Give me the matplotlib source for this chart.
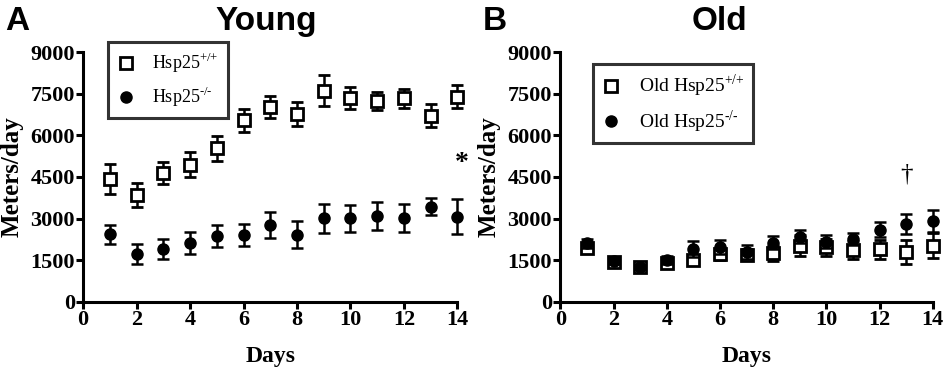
import numpy as np
import matplotlib
matplotlib.use("Agg")
import matplotlib.pyplot as plt
from matplotlib.lines import Line2D

plt.rcParams['font.family'] = 'Liberation Serif'
plt.rcParams['mathtext.fontset'] = 'custom'
plt.rcParams['mathtext.rm'] = 'Liberation Serif'

# data (mean, SEM in meters/day)
days = np.arange(1, 15)

young_wt = [4420, 3850, 4640, 4950, 5530, 6550, 7030, 6770, 7610, 7360, 7250, 7340, 6710, 7400]
young_wt_err = [550, 440, 410, 450, 450, 420, 390, 430, 560, 400, 320, 350, 420, 420]
young_ko = [2430, 1720, 1900, 2110, 2370, 2410, 2770, 2420, 3010, 3010, 3080, 3020, 3430, 3070]
young_ko_err = [340, 360, 350, 390, 400, 410, 460, 500, 520, 490, 510, 510, 310, 620]

old_wt = [1930, 1420, 1260, 1390, 1500, 1710, 1700, 1740, 2020, 1960, 1870, 1890, 1780, 2010]
old_wt_err = [150, 100, 80, 150, 150, 200, 200, 280, 380, 300, 330, 350, 430, 450]
old_ko = [2100, 1470, 1260, 1500, 1900, 1960, 1780, 2130, 2350, 2170, 2250, 2590, 2790, 2910]
old_ko_err = [150, 100, 80, 150, 280, 250, 250, 230, 250, 220, 220, 270, 360, 400]

yticks = [0, 1500, 3000, 4500, 6000, 7500, 9000]
xticks = [0, 2, 4, 6, 8, 10, 12, 14]

fig = plt.figure(figsize=(9.45, 3.71), dpi=100)
axA = fig.add_axes([0.088, 0.187, 0.396, 0.672])
axB = fig.add_axes([0.593, 0.187, 0.394, 0.672])


def style_axis(ax):
    ax.set_xlim(0, 14)
    ax.set_ylim(0, 9000)
    ax.set_xticks(xticks)
    ax.set_yticks(yticks)
    for s in ['top', 'right']:
        ax.spines[s].set_visible(False)
    for s in ['left', 'bottom']:
        ax.spines[s].set_linewidth(2.2)
    ax.tick_params(width=2.2, length=5, direction='out', labelsize=16, pad=1)
    for lab in ax.get_xticklabels() + ax.get_yticklabels():
        lab.set_fontweight('bold')
    ax.set_ylabel('Meters/day', fontsize=18, fontweight='bold')
    ax.set_xlabel('Days', fontsize=17, fontweight='bold')
    ax.yaxis.set_label_coords(-0.16, 0.5)
    ax.xaxis.set_label_coords(0.5, -0.178)


def plot_group(ax, wt, wt_err, ko, ko_err):
    ax.errorbar(days, wt, yerr=wt_err, fmt='s', mfc='white', mec='black', mew=2,
                ms=8.5, ecolor='black', elinewidth=1.8, capsize=4.5, capthick=1.8,
                clip_on=False, zorder=3)
    ax.errorbar(days, ko, yerr=ko_err, fmt='o', color='black', ms=8,
                ecolor='black', elinewidth=1.8, capsize=4.5, capthick=1.8,
                clip_on=False, zorder=4)


plot_group(axA, young_wt, young_wt_err, young_ko, young_ko_err)
plot_group(axB, old_wt, old_wt_err, old_ko, old_ko_err)

for ax in (axA, axB):
    style_axis(ax)

h_wt = Line2D([], [], ls='none', marker='s', mfc='white', mec='black', mew=2, ms=8)
h_ko = Line2D([], [], ls='none', marker='o', color='black', ms=8)

legA = fig.legend([h_wt, h_ko], [r'Hsp25$^{\text{+/+}}$', r'Hsp25$^{\text{-/-}}$'],
                  loc='upper left', bbox_to_anchor=(108 / 945, 1 - 42 / 371),
                  borderaxespad=0, fontsize=13, frameon=True, fancybox=False,
                  edgecolor='black', handlelength=1.0, handletextpad=0.95,
                  borderpad=0.5, labelspacing=0.55)
legA.get_frame().set_linewidth(2.2)
legB = fig.legend([h_wt, h_ko], [r'Old Hsp25$^{\text{+/+}}$', r'Old Hsp25$^{\text{-/-}}$'],
                  loc='upper left', bbox_to_anchor=(593 / 945, 1 - 64 / 371),
                  borderaxespad=0, fontsize=14, frameon=True, fancybox=False,
                  edgecolor='black', handlelength=1.0, handletextpad=0.9,
                  borderpad=0.45, labelspacing=0.45)
legB.get_frame().set_linewidth(2.2)

axA.text(14.17, 5000, '*', ha='center', va='center', fontsize=20, fontweight='bold')
axB.text(13, 4600, '\u2020', ha='center', va='center', fontsize=18)

fig.text(0.005, 0.985, 'A', ha='left', va='top', fontsize=24, fontweight='bold',
         family='Liberation Sans')
fig.text(0.282, 0.985, 'Young', ha='center', va='top', fontsize=24, fontweight='bold',
         family='Liberation Sans')
fig.text(0.511, 0.985, 'B', ha='left', va='top', fontsize=24, fontweight='bold',
         family='Liberation Sans')
fig.text(0.761, 0.985, 'Old', ha='center', va='top', fontsize=24, fontweight='bold',
         family='Liberation Sans')

fig.savefig('out.png', dpi=100)
